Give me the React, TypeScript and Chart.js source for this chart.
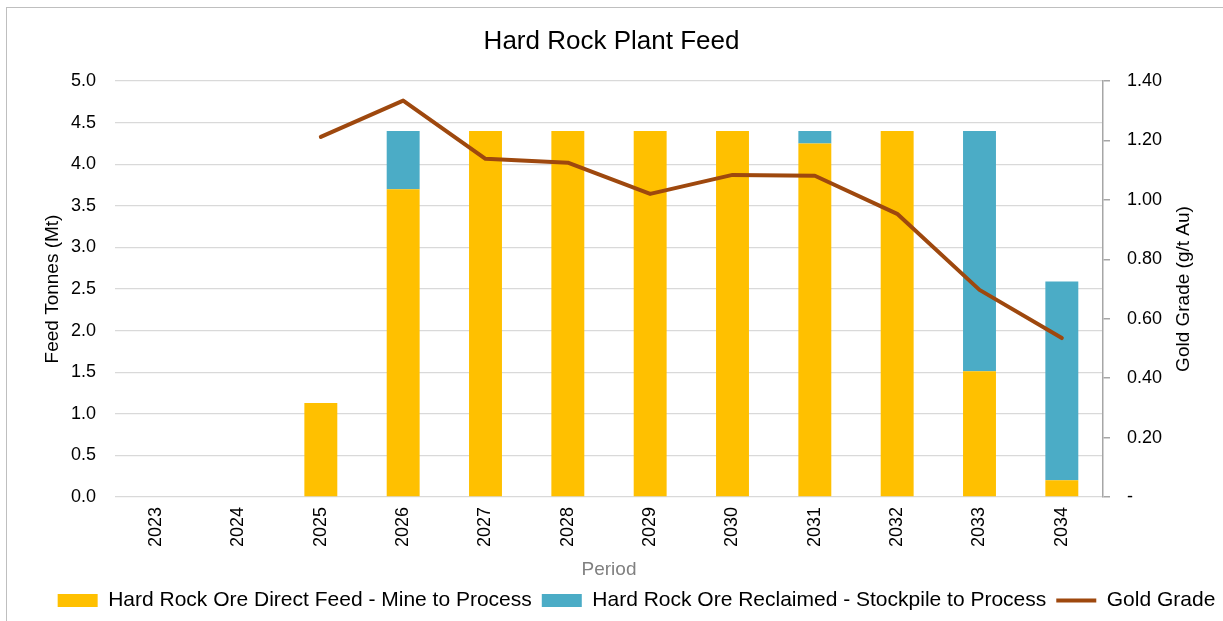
import React, { useEffect, useRef } from 'react';
import { Chart, registerables } from 'chart.js';

Chart.register(...registerables);

const categories = ['2023', '2024', '2025', '2026', '2027', '2028', '2029', '2030', '2031', '2032', '2033', '2034'];
const directFeed = [0, 0, 1.13, 3.7, 4.4, 4.4, 4.4, 4.4, 4.25, 4.4, 1.51, 0.2];
const reclaimedFeed = [0, 0, 0, 0.7, 0, 0, 0, 0, 0.15, 0, 2.89, 2.39];
const goldGrade = [null, null, 1.212, 1.334, 1.138, 1.125, 1.02, 1.084, 1.081, 0.953, 0.697, 0.535];

const seriesLabels = [
  'Hard Rock Ore Direct Feed - Mine to Process',
  'Hard Rock Ore Reclaimed - Stockpile to Process',
  'Gold Grade',
];
const chartTitle = 'Hard Rock Plant Feed';
const leftTitle = 'Feed Tonnes (Mt)';
const rightTitle = 'Gold Grade (g/t Au)';
const xTitle = 'Period';

const FONT = "'Liberation Sans', Arial, sans-serif";
const YELLOW = '#FFC000';
const TEAL = '#4BACC6';
const BROWN = '#9E480E';

export default function App() {
  const ref = useRef<HTMLCanvasElement | null>(null);

  useEffect(() => {
    if (!ref.current) return;
    Chart.defaults.font.family = FONT;
    Chart.defaults.color = '#000';

    const rightTitlePlugin = {
      id: 'rightTitlePlugin',
      afterDraw(chart: any) {
        const { ctx, chartArea } = chart;
        ctx.save();
        ctx.translate(1184, (chartArea.top + chartArea.bottom) / 2);
        ctx.rotate(-Math.PI / 2);
        ctx.font = `19px ${FONT}`;
        ctx.fillStyle = '#000';
        ctx.textAlign = 'center';
        ctx.textBaseline = 'middle';
        ctx.fillText(rightTitle, 0, 0);
        ctx.restore();
      },
    };

    const legendShift = {
      id: 'legendShift',
      afterLayout(chart: any) {
        const lg = chart.legend;
        if (lg) {
          lg.left = 25;
          lg.right = 1248;
        }
      },
    };

    const chart = new Chart(ref.current, {
      type: 'bar',
      data: {
        labels: categories,
        datasets: [
          {
            type: 'bar',
            label: seriesLabels[0],
            data: directFeed,
            backgroundColor: YELLOW,
            yAxisID: 'y',
            order: 1,
            barPercentage: 0.4,
            categoryPercentage: 1,
          },
          {
            type: 'bar',
            label: seriesLabels[1],
            data: reclaimedFeed,
            backgroundColor: TEAL,
            yAxisID: 'y',
            order: 1,
            barPercentage: 0.4,
            categoryPercentage: 1,
          },
          {
            type: 'line',
            label: seriesLabels[2],
            data: goldGrade as any,
            borderColor: BROWN,
            backgroundColor: BROWN,
            borderWidth: 4,
            pointRadius: 0,
            yAxisID: 'y1',
            order: 0,
            tension: 0,
            borderCapStyle: 'round',
            borderJoinStyle: 'round',
          } as any,
        ],
      },
      options: {
        animation: false,
        responsive: true,
        maintainAspectRatio: false,
        events: [],
        layout: { padding: 0 },
        plugins: {
          title: {
            display: true,
            text: chartTitle,
            color: '#000',
            font: { size: 26, weight: 'normal' },
            padding: { top: 26.4, bottom: 23.4 },
          },
          legend: {
            position: 'bottom',
            labels: {
              usePointStyle: true,
              pointStyleWidth: 40,
              boxHeight: 13,
              padding: 10,
              color: '#000',
              font: { size: 21 },
              generateLabels: (c: any) =>
                c.data.datasets.map((ds: any, i: number) => {
                  const isLine = ds.type === 'line';
                  return {
                    text: ds.label,
                    fillStyle: isLine ? ds.borderColor : ds.backgroundColor,
                    strokeStyle: isLine ? ds.borderColor : ds.backgroundColor,
                    lineWidth: isLine ? 4 : 0,
                    pointStyle: isLine ? 'line' : 'rect',
                    hidden: false,
                    datasetIndex: i,
                    fontColor: '#000',
                  };
                }),
            },
          },
          tooltip: { enabled: false },
        },
        scales: {
          x: {
            stacked: true,
            grid: { display: false },
            border: { display: false },
            ticks: {
              minRotation: 90,
              maxRotation: 90,
              padding: 2,
              color: '#000',
              font: { size: 18 },
            },
            title: {
              display: true,
              text: xTitle,
              color: '#808080',
              font: { size: 19 },
              padding: { top: 0, bottom: -1 },
            },
            afterFit: (s: any) => {
              s.height = 83;
            },
          },
          y: {
            stacked: true,
            position: 'left',
            min: 0,
            max: 5,
            ticks: {
              stepSize: 0.5,
              padding: 19,
              color: '#000',
              font: { size: 18 },
              callback: (v: any) => Number(v).toFixed(1),
            },
            grid: { color: '#d9d9d9', lineWidth: 1.3, drawTicks: false },
            border: { display: false },
            title: {
              display: true,
              text: leftTitle,
              color: '#000',
              font: { size: 19 },
              padding: { top: 41.6, bottom: 0 },
            },
            afterFit: (s: any) => {
              s.width = 115;
            },
          },
          y1: {
            position: 'right',
            min: 0,
            max: 1.4,
            ticks: {
              stepSize: 0.2,
              padding: 17,
              color: '#000',
              font: { size: 18 },
              callback: (v: any) => (Math.abs(Number(v)) < 1e-9 ? '-' : Number(v).toFixed(2)),
            },
            grid: { drawOnChartArea: false, drawTicks: true, tickLength: 7, color: '#a6a6a6', lineWidth: 1.5 },
            border: { display: true, color: '#a6a6a6', width: 1.5 },
            afterFit: (s: any) => {
              s.width = 120;
            },
          },
        },
      } as any,
      plugins: [rightTitlePlugin, legendShift],
    });

    return () => chart.destroy();
  }, []);

  return (
    <>
      <div
        style={{
          position: 'absolute',
          left: 6,
          top: 7,
          width: 1217,
          height: 614,
          boxSizing: 'border-box',
          borderLeft: '1px solid #bfbfbf',
          borderTop: '1px solid #bfbfbf',
          pointerEvents: 'none',
        }}
      />
      <div style={{ position: 'absolute', left: 0, top: 0, width: 1223, height: 621 }}>
        <canvas ref={ref} />
      </div>
    </>
  );
}
